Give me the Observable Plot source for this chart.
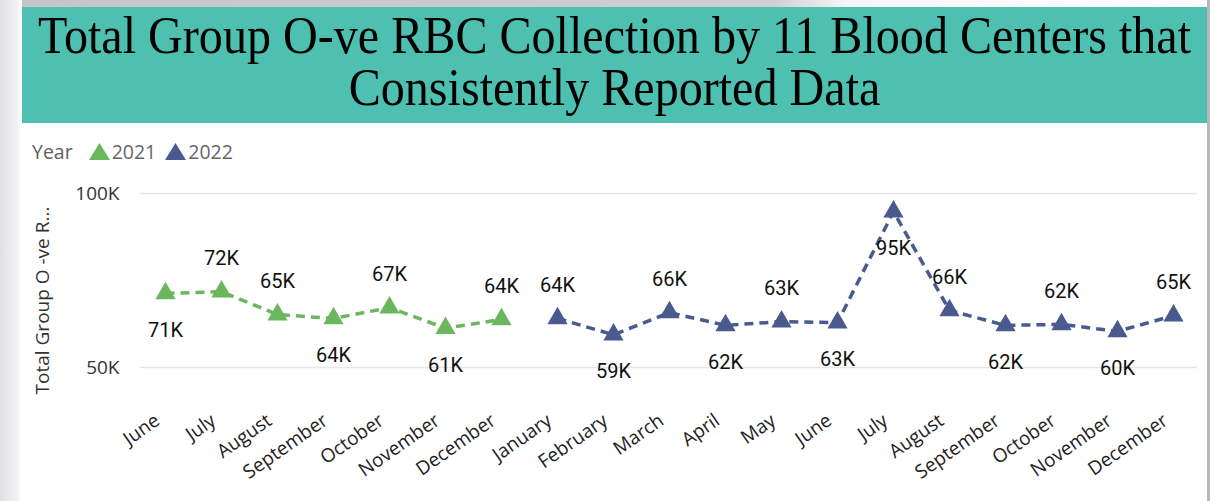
<!DOCTYPE html>
<html>
<head>
<meta charset="utf-8">
<script src="https://cdn.jsdelivr.net/npm/d3@7"></script>
<script src="https://cdn.jsdelivr.net/npm/@observablehq/plot@0.6"></script>
<style>
  html, body { margin: 0; padding: 0; }
  body { width: 1210px; height: 501px; position: relative; overflow: hidden; background: #fff; font-family: "Open Sans", sans-serif; }
  #topshade { position: absolute; left: 0; top: 0; width: 1210px; height: 8px; background: linear-gradient(to right, #c4c5c9 0%, #cfd0d3 64%, #f6f6f7 70%, #ffffff 100%); }
  #leftshade { position: absolute; left: 0; top: 0; width: 22px; height: 501px; background: linear-gradient(to right, #dfe0e3, #f3f3f5 80%, #ffffff); }
  #rightbar { position: absolute; left: 1207px; top: 0; width: 3px; height: 501px; background: #b9b9bb; }
  #banner { position: absolute; left: 22px; top: 7px; width: 1185px; height: 116px; background: #4dc0b1; }
  .tline { position: absolute; left: -10px; width: 1205px; text-align: center; font-family: "Liberation Serif", "Times New Roman", serif; font-size: 50px; line-height: 50px; height: 50px; color: #000; transform: scaleX(0.962) scaleY(1.05); transform-origin: center top; white-space: nowrap; }
  #legend { position: absolute; left: 32px; top: 138px; font-family: "Open Sans", sans-serif; font-size: 19.5px; color: #666; display: flex; align-items: center; }
  #legend .ttl { font-weight: 400; margin-right: 16px; color: #605e5c; }
  #legend .item { display: flex; align-items: center; margin-right: 9px; }
  #legend svg { margin-right: 2px; }
  #chart { position: absolute; left: 0; top: 122px; }
</style>
</head>
<body>
<div id="topshade"></div>
<div id="leftshade"></div>
<div id="rightbar"></div>
<div id="banner">
  <div class="tline" style="top:2px">Total Group O-ve RBC Collection by 11 Blood Centers that</div>
  <div class="tline" style="top:54px">Consistently Reported Data</div>
</div>
<div id="legend"></div>
<div id="chart"></div>
<script>
// ---- data ----
const months = ["June","July","August","September","October","November","December",
                "January","February","March","April","May","June","July","August","September","October","November","December"];
const years = ["2021","2021","2021","2021","2021","2021","2021",
               "2022","2022","2022","2022","2022","2022","2022","2022","2022","2022","2022","2022"];
const values = [71300, 71800, 65200, 64100, 67200, 61300, 63800,
                64100, 59400, 65800, 62100, 63200, 62900, 94800, 66400, 62100, 62400, 60400, 64900];
const labelPos = ["below","above","above","below","above","below","above",
                  "above","below","above","below","above","below","below","above","below","above","below","above"];
const seriesNames = ["2021", "2022"];
const seriesColors = ["#6bb75d", "#4a5a8e"];
const yTicks = [50000, 100000];
const yTitle = "Total Group O -ve R...";

const data = months.map((m, i) => ({i, month: m, year: years[i], value: values[i], pos: labelPos[i]}));

// legend
const legend = document.getElementById("legend");
legend.innerHTML = `<span class="ttl">Year</span>` + seriesNames.map((s, k) =>
  `<span class="item"><svg width="21" height="17"><polygon points="10.5,0 21,17 0,17" fill="${seriesColors[k]}"/></svg>${s}</span>`).join("");

const fmtK = v => Math.round(v / 1000) + "K";

const chart = Plot.plot({
  width: 1210,
  height: 379,
  marginLeft: 140,
  marginRight: 13,
  marginTop: 79,
  marginBottom: 102,
  style: {fontFamily: "Open Sans, sans-serif", background: "transparent"},
  x: {type: "point", domain: months.map((_, i) => i), range: [164, 1173], padding: 0, axis: null},
  y: {domain: [50000, 100000], range: [245, 71], axis: null},
  color: {domain: seriesNames, range: seriesColors},
  marks: [
    Plot.gridY(yTicks, {stroke: "#e6e6e6", strokeOpacity: 1, strokeWidth: 1.5}),
    Plot.axisY(yTicks, {tickSize: 0, tickPadding: 21, tickFormat: d => (d / 1000) + "K", fontSize: 19, fill: "#333", label: null}),
    Plot.text([yTitle], {frameAnchor: "left", textAnchor: "middle", lineAnchor: "middle", dx: -98, rotate: -90, fontSize: 19, fill: "#333"}),
    Plot.text(data, {x: "i", frameAnchor: "bottom", text: "month", rotate: -35, textAnchor: "end", lineAnchor: "middle", dx: -8, dy: 19, fontSize: 19, fill: "#222"}),
    Plot.line(data, {x: "i", y: "value", z: "year", stroke: "year", strokeWidth: 3.5, strokeDasharray: "9,6", strokeLinecap: "butt"}),
    Plot.dot(data, {x: "i", y: "value", symbol: "triangle", fill: "year", r: 7.5, stroke: null}),
    Plot.text(data.filter(d => d.pos === "above"), {x: "i", y: "value", text: d => fmtK(d.value), dy: -33, fontSize: 20, fill: "#111", fontFamily: "Roboto, sans-serif"}),
    Plot.text(data.filter(d => d.pos === "below"), {x: "i", y: "value", text: d => fmtK(d.value), dy: 37, fontSize: 20, fill: "#111", fontFamily: "Roboto, sans-serif"})
  ]
});
document.getElementById("chart").appendChild(chart);
</script>
</body>
</html>
